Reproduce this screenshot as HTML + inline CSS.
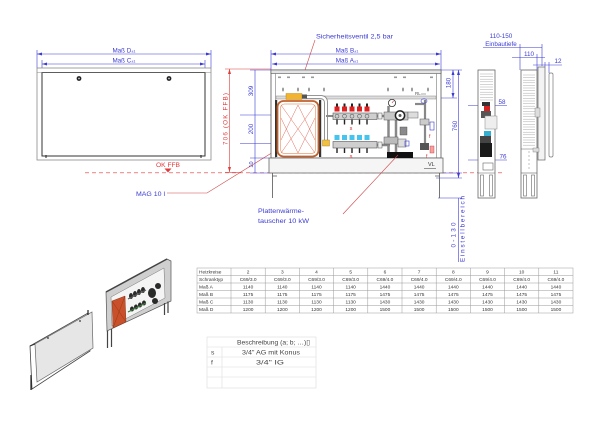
<!DOCTYPE html>
<html><head><meta charset="utf-8"><style>
html,body{margin:0;padding:0;background:#fff;width:600px;height:425px;overflow:hidden}
svg{display:block}
text{font-family:"Liberation Sans",Arial,sans-serif}
</style></head><body>
<svg width="600" height="425" viewBox="0 0 600 425" xmlns="http://www.w3.org/2000/svg">
<defs>
<marker id="ab" markerWidth="5" markerHeight="3" refX="5" refY="1.5" orient="auto-start-reverse" markerUnits="userSpaceOnUse"><path d="M0,0 L5,1.5 L0,3z" fill="#3b3bd4"/></marker>
<marker id="ar" markerWidth="5" markerHeight="3" refX="5" refY="1.5" orient="auto-start-reverse" markerUnits="userSpaceOnUse"><path d="M0,0 L5,1.5 L0,3z" fill="#e03a3a"/></marker>
</defs>

<!-- ===== LEFT FRONT VIEW ===== -->
<g stroke="#3b3bd4" stroke-width="0.6" fill="none">
<line x1="37" y1="54" x2="211" y2="54" marker-start="url(#ab)" marker-end="url(#ab)"/>
<line x1="42" y1="64" x2="205" y2="64" marker-start="url(#ab)" marker-end="url(#ab)"/>
<line x1="37" y1="50" x2="37" y2="68"/><line x1="211" y1="50" x2="211" y2="68"/>
<line x1="42" y1="60" x2="42" y2="72"/><line x1="205" y1="60" x2="205" y2="72"/>
</g>
<text x="124" y="52.5" text-anchor="middle" font-size="6.3" fill="#3b3bd4">Maß D<tspan font-size="3.8">±1</tspan></text>
<text x="124" y="62.5" text-anchor="middle" font-size="6.3" fill="#3b3bd4">Maß C<tspan font-size="3.8">±1</tspan></text>
<rect x="37" y="68" width="174" height="92" fill="#fff" stroke="#8a8a8a" stroke-width="0.8"/>
<rect x="42" y="72.5" width="163" height="83.5" fill="#fff" stroke="#333" stroke-width="1"/>
<line x1="37" y1="72.5" x2="211" y2="72.5" stroke="#888" stroke-width="0.5"/>
<line x1="46" y1="155" x2="46" y2="158" stroke="#222" stroke-width="1"/>
<line x1="201" y1="155" x2="201" y2="158" stroke="#222" stroke-width="1"/>
<circle cx="79" cy="78.5" r="2.4" fill="#222"/><circle cx="79" cy="78.5" r="0.9" fill="#ccc"/>
<circle cx="169" cy="78.5" r="2.4" fill="#222"/><circle cx="169" cy="78.5" r="0.9" fill="#ccc"/>

<!-- OK FFB -->
<text x="168" y="167" text-anchor="middle" font-size="6.3" fill="#e03a3a" textLength="24" lengthAdjust="spacingAndGlyphs">OK FFB</text>
<path d="M164.5,168.5 L171.5,168.5 L168,172.5z" fill="#e03a3a"/>
<line x1="85" y1="172.8" x2="503" y2="172.8" stroke="#e03a3a" stroke-width="0.6" stroke-dasharray="4,3"/>

<!-- 706 dim -->
<line x1="229.5" y1="69" x2="229.5" y2="172" stroke="#e03a3a" stroke-width="0.6" marker-start="url(#ar)" marker-end="url(#ar)"/>
<line x1="225" y1="69" x2="271" y2="69" stroke="#e03a3a" stroke-width="0.6"/>
<line x1="225" y1="172.5" x2="240" y2="172.5" stroke="#e03a3a" stroke-width="0.6"/>
<text transform="translate(227.5,119) rotate(-90)" text-anchor="middle" font-size="6.3" fill="#e03a3a" textLength="52" lengthAdjust="spacing">706 (OK FFB)</text>

<!-- MAG leader -->
<text x="136" y="196" font-size="6.3" fill="#3b3bd4" textLength="29" lengthAdjust="spacingAndGlyphs">MAG 10 l</text>
<polyline points="167,193 207,193 291,141" fill="none" stroke="#d04848" stroke-width="0.6"/>

<!-- ===== MIDDLE FRONT VIEW ===== -->
<text x="316" y="38.5" font-size="6.3" fill="#3b3bd4" textLength="77" lengthAdjust="spacingAndGlyphs">Sicherheitsventil 2,5 bar</text>
<line x1="315" y1="40" x2="297" y2="94" stroke="#d04848" stroke-width="0.6"/>

<g stroke="#3b3bd4" stroke-width="0.6" fill="none">
<line x1="271" y1="54" x2="441" y2="54" marker-start="url(#ab)" marker-end="url(#ab)"/>
<line x1="272" y1="64" x2="440" y2="64" marker-start="url(#ab)" marker-end="url(#ab)"/>
<line x1="271" y1="50" x2="271" y2="70"/><line x1="441" y1="50" x2="441" y2="70"/>
<!-- left dims -->
<line x1="255" y1="70" x2="255" y2="173"/>
<line x1="250" y1="70" x2="271" y2="70"/>
<line x1="240" y1="115" x2="334" y2="115"/>
<line x1="240" y1="143.5" x2="334" y2="143.5"/>
<line x1="250" y1="158" x2="269" y2="158"/>
<line x1="250" y1="173" x2="269" y2="173"/>
<!-- right dims -->
<line x1="441" y1="70" x2="462" y2="70"/>
<line x1="437" y1="98" x2="457" y2="98"/>
<line x1="453" y1="70" x2="453" y2="98" marker-start="url(#ab)" marker-end="url(#ab)"/>
<line x1="458.5" y1="70" x2="458.5" y2="178" marker-start="url(#ab)" marker-end="url(#ab)"/>
<line x1="443" y1="173" x2="462" y2="173"/>
<line x1="436" y1="178" x2="462" y2="178"/>
<line x1="438" y1="198" x2="462" y2="198"/>
<line x1="458.5" y1="198" x2="458.5" y2="262"/>
</g>
<g fill="#3b3bd4" font-size="6.3" text-anchor="middle">
<text transform="translate(253,91) rotate(-90)">309</text>
<text transform="translate(253,129) rotate(-90)">200</text>
<text transform="translate(253,164.5) rotate(-90)" font-size="5.5">10</text>
<text transform="translate(450.5,83) rotate(-90)">180</text>
<text transform="translate(457,126) rotate(-90)">760</text>
<text transform="translate(455.5,235) rotate(-90)" textLength="25" lengthAdjust="spacing">0-130</text>
<text transform="translate(464.5,229) rotate(-90)" textLength="66" lengthAdjust="spacing">Einstellbereich</text>
</g>
<text x="347" y="52.5" text-anchor="middle" font-size="6.3" fill="#3b3bd4">Maß B<tspan font-size="3.8">±1</tspan></text>
<text x="347" y="62.5" text-anchor="middle" font-size="6.3" fill="#3b3bd4">Maß A<tspan font-size="3.8">±1</tspan></text>

<!-- cabinet body -->
<rect x="271" y="70" width="170" height="88" fill="#fff" stroke="#555" stroke-width="0.8"/>
<rect x="271" y="70" width="170" height="3.5" fill="#e4e4e4" stroke="#555" stroke-width="0.6"/>
<line x1="275.5" y1="73.5" x2="275.5" y2="158" stroke="#777" stroke-width="0.6"/>
<line x1="436.5" y1="73.5" x2="436.5" y2="158" stroke="#777" stroke-width="0.6"/>
<rect x="269" y="158" width="174" height="15" fill="#f5f5f5" stroke="#666" stroke-width="0.8"/>
<path d="M272.5,173 V198 M272.5,176 H277 M439.5,173 V198 M435,176 H439.5" stroke="#555" stroke-width="0.8" fill="none"/>
<!-- small top items -->
<g fill="#999">
<rect x="278" y="76.5" width="3" height="1.6"/><rect x="287" y="76.5" width="3" height="1.6"/>
<rect x="302" y="76.5" width="3" height="1.6"/><rect x="311" y="76.5" width="3" height="1.6"/>
<rect x="394" y="76.5" width="3" height="1.6"/><rect x="403" y="76.5" width="3" height="1.6"/>
<rect x="430" y="76.5" width="3" height="1.6"/>
<ellipse cx="283" cy="89.5" rx="1" ry="2"/><ellipse cx="298" cy="89.5" rx="1" ry="2"/>
<ellipse cx="309" cy="89.5" rx="1" ry="2"/><ellipse cx="324" cy="89.5" rx="1" ry="2"/>
<ellipse cx="388" cy="89.5" rx="1" ry="2"/><ellipse cx="403" cy="89.5" rx="1" ry="2"/>
<ellipse cx="412" cy="89.5" rx="1" ry="2"/><ellipse cx="428" cy="89.5" rx="1" ry="2"/>
</g>
<rect x="276" y="96" width="160" height="3" fill="#ddd" stroke="#888" stroke-width="0.5"/>
<text x="415" y="95" font-size="4.5" fill="#555">RL</text>
<line x1="421" y1="94" x2="426" y2="94" stroke="#555" stroke-width="0.5"/>

<!-- safety valve + pipe -->
<path d="M306,97 H320 Q326,97 326,103 V140" fill="none" stroke="#888" stroke-width="4"/>
<path d="M306,97 H320 Q326,97 326,103 V140" fill="none" stroke="#fff" stroke-width="2.2"/>
<rect x="286" y="93.5" width="16" height="6" fill="#f2b330" stroke="#b07a10" stroke-width="0.4"/>
<rect x="302" y="94.5" width="5" height="4" fill="#555"/>
<rect x="322.5" y="140" width="7" height="6" fill="#f2c040" stroke="#a07010" stroke-width="0.4"/>

<!-- expansion tank -->
<rect x="275" y="100" width="2.2" height="57" fill="#333"/>
<rect x="319" y="100" width="2.2" height="57" fill="#333"/>
<rect x="277.5" y="101" width="41" height="55.5" rx="6" fill="#fff" stroke="#c0602c" stroke-width="1.8"/>
<rect x="280.5" y="104" width="35" height="49.5" rx="4" fill="none" stroke="#e4a078" stroke-width="0.7"/>
<g stroke="#e06a5a" stroke-width="0.5">
<line x1="281" y1="105" x2="315" y2="153"/><line x1="315" y1="105" x2="281" y2="153"/>
<line x1="298" y1="105" x2="281" y2="140"/><line x1="298" y1="105" x2="315" y2="140"/>
<line x1="298" y1="153" x2="281" y2="118"/><line x1="298" y1="153" x2="315" y2="118"/>
</g>

<!-- red manifold -->
<line x1="326" y1="116" x2="333" y2="116" stroke="#888" stroke-width="2"/>
<rect x="333" y="113" width="44" height="6.5" fill="#cfcfcf" stroke="#555" stroke-width="0.6"/>
<g fill="#e02020">
<rect x="334.5" y="106.5" width="5" height="5"/><rect x="342" y="106.5" width="5" height="5"/>
<rect x="349.5" y="106.5" width="5" height="5"/><rect x="357" y="106.5" width="5" height="5"/>
<rect x="364.5" y="106.5" width="5" height="5"/>
</g>
<g fill="#222">
<rect x="336" y="103.5" width="2" height="3"/><rect x="343.5" y="103.5" width="2" height="3"/>
<rect x="351" y="103.5" width="2" height="3"/><rect x="358.5" y="103.5" width="2" height="3"/>
<rect x="366" y="103.5" width="2" height="3"/>
<rect x="336.3" y="119.5" width="1.4" height="5"/><rect x="343.8" y="119.5" width="1.4" height="5"/>
<rect x="351.3" y="119.5" width="1.4" height="5"/><rect x="358.8" y="119.5" width="1.4" height="5"/>
<rect x="366.3" y="119.5" width="1.4" height="5"/>
<rect x="336.3" y="148" width="1.4" height="5"/><rect x="343.8" y="148" width="1.4" height="5"/>
<rect x="351.3" y="148" width="1.4" height="5"/><rect x="358.8" y="148" width="1.4" height="5"/>
<rect x="366.3" y="148" width="1.4" height="5"/>
</g>
<g fill="none" stroke="#444" stroke-width="0.5">
<circle cx="337" cy="116.2" r="2"/><circle cx="344.5" cy="116.2" r="2"/><circle cx="352" cy="116.2" r="2"/><circle cx="359.5" cy="116.2" r="2"/><circle cx="367" cy="116.2" r="2"/>
<circle cx="337" cy="144.7" r="2"/><circle cx="344.5" cy="144.7" r="2"/><circle cx="352" cy="144.7" r="2"/><circle cx="359.5" cy="144.7" r="2"/><circle cx="367" cy="144.7" r="2"/>
</g>
<text x="351" y="130" text-anchor="middle" font-size="5.5" fill="#d03030">s</text>
<!-- blue manifold -->
<rect x="333" y="141.5" width="44" height="6.5" fill="#cfcfcf" stroke="#555" stroke-width="0.6"/>
<g fill="#44c4ee">
<rect x="334.5" y="135" width="5" height="5"/><rect x="342" y="135" width="5" height="5"/>
<rect x="349.5" y="135" width="5" height="5"/><rect x="357" y="135" width="5" height="5"/>
<rect x="364.5" y="135" width="5" height="5"/>
</g>
<text x="351" y="158" text-anchor="middle" font-size="5.5" fill="#d03030">s</text>

<!-- pipes to pump group -->
<line x1="377" y1="116" x2="390" y2="116" stroke="#888" stroke-width="2.5"/>
<line x1="377" y1="145" x2="390" y2="145" stroke="#888" stroke-width="2.5"/>
<rect x="378" y="113" width="4" height="6" fill="#eee" stroke="#555" stroke-width="0.5"/>
<rect x="378" y="142" width="4" height="6" fill="#eee" stroke="#555" stroke-width="0.5"/>

<!-- pump group -->
<line x1="388.5" y1="106" x2="388.5" y2="152" stroke="#888" stroke-width="2.5"/>
<line x1="396" y1="120" x2="396" y2="152" stroke="#888" stroke-width="2.5"/>
<circle cx="392" cy="103" r="3.6" fill="#fff" stroke="#333" stroke-width="0.8"/>
<line x1="392" y1="103" x2="393.5" y2="101" stroke="#d02020" stroke-width="0.6"/>
<rect x="384" y="112" width="24" height="8" fill="#c8c8c8" stroke="#555" stroke-width="0.5"/>
<circle cx="400" cy="115.5" r="4.6" fill="#fff" stroke="#222" stroke-width="1.5"/>
<circle cx="400" cy="115.5" r="1.5" fill="#555"/>
<rect x="408" y="112" width="10" height="6" fill="#ddd" stroke="#666" stroke-width="0.5"/>
<rect x="400" y="127" width="7" height="8" fill="#8a8a8a" stroke="#444" stroke-width="0.4"/>
<rect x="384" y="137" width="14" height="7" fill="#bbb" stroke="#555" stroke-width="0.5"/>
<rect x="398" y="139" width="8" height="8" fill="#ddd" stroke="#555" stroke-width="0.5"/>
<rect x="405" y="141" width="4" height="5" fill="none" stroke="#3b3bd4" stroke-width="0.6"/>
<rect x="387" y="152" width="26" height="6" fill="#111"/>
<!-- right valve group -->
<line x1="425" y1="100" x2="425" y2="150" stroke="#888" stroke-width="2.2"/>
<line x1="415" y1="104" x2="425" y2="104" stroke="#888" stroke-width="2.2"/>
<ellipse cx="424" cy="101" rx="3" ry="2.2" fill="none" stroke="#3b3bd4" stroke-width="0.6"/>
<rect x="420" y="119" width="9" height="6" fill="#ccc" stroke="#555" stroke-width="0.5"/>
<rect x="430" y="122" width="4" height="8" fill="none" stroke="#3b3bd4" stroke-width="0.6"/>
<rect x="420" y="143" width="9" height="7" fill="#555"/>
<rect x="430" y="146" width="4" height="7" fill="#f4a0a0" stroke="#d03030" stroke-width="0.4"/>
<text x="429" y="138" font-size="5" fill="#d03030">f</text>
<text x="426" y="158" font-size="5" fill="#d03030">f</text>
<text x="428" y="166" font-size="5.5" fill="#333">VL</text>
<line x1="424" y1="168.5" x2="436" y2="168.5" stroke="#333" stroke-width="0.5"/>

<!-- Plattenwärmetauscher -->
<text x="258" y="213" font-size="6.3" fill="#3b3bd4" textLength="46" lengthAdjust="spacingAndGlyphs">Plattenwärme-</text>
<text x="258" y="223" font-size="6.3" fill="#3b3bd4" textLength="51" lengthAdjust="spacingAndGlyphs">tauscher 10 kW</text>
<line x1="343" y1="214" x2="398" y2="155" stroke="#d04848" stroke-width="0.6"/>

<!-- ===== SIDE VIEWS ===== -->
<text x="501" y="38" text-anchor="middle" font-size="6.3" fill="#3b3bd4">110-150</text>
<text x="501" y="46" text-anchor="middle" font-size="6.3" fill="#3b3bd4">Einbautiefe</text>
<g stroke="#3b3bd4" stroke-width="0.6" fill="none">
<line x1="483" y1="47.5" x2="542" y2="47.5"/>
<line x1="520" y1="44" x2="520" y2="70"/><line x1="542" y1="44" x2="542" y2="66"/>
<line x1="512" y1="57.5" x2="545" y2="57.5"/>
<line x1="537" y1="54" x2="537" y2="70"/>
<line x1="533" y1="65" x2="562" y2="65"/>
<line x1="545" y1="62" x2="545" y2="67"/><line x1="549" y1="62" x2="549" y2="73"/>
<line x1="468" y1="105.5" x2="507" y2="105.5"/>
<line x1="468" y1="160" x2="507" y2="160"/>
</g>
<text x="529" y="56" text-anchor="middle" font-size="6.3" fill="#3b3bd4">110</text>
<text x="558" y="63" text-anchor="middle" font-size="6.3" fill="#3b3bd4">12</text>
<text x="502" y="104" text-anchor="middle" font-size="6.3" fill="#3b3bd4">58</text>
<text x="503" y="158.5" text-anchor="middle" font-size="6.3" fill="#3b3bd4">76</text>

<!-- side view 1 -->
<rect x="478" y="70" width="17" height="128" fill="#fff" stroke="#666" stroke-width="0.8"/>
<g stroke="#aaa" stroke-width="0.5">
<line x1="480" y1="74" x2="493" y2="74"/><line x1="480" y1="76.6" x2="493" y2="76.6"/><line x1="480" y1="79.2" x2="493" y2="79.2"/><line x1="480" y1="81.8" x2="493" y2="81.8"/><line x1="480" y1="84.4" x2="493" y2="84.4"/><line x1="480" y1="87" x2="493" y2="87"/><line x1="480" y1="89.6" x2="493" y2="89.6"/><line x1="480" y1="92.2" x2="493" y2="92.2"/><line x1="480" y1="94.8" x2="493" y2="94.8"/><line x1="480" y1="97.4" x2="493" y2="97.4"/><line x1="480" y1="100" x2="493" y2="100"/>
</g>
<rect x="482" y="102" width="8" height="4" fill="#333"/>
<rect x="484" y="106" width="6" height="5" fill="#d62020"/>
<rect x="481" y="111" width="10" height="7" fill="#555"/>
<rect x="485" y="116" width="12" height="13" fill="#eee" stroke="#888" stroke-width="0.5"/>
<rect x="484" y="131" width="7" height="5" fill="#34aed0"/>
<rect x="480" y="136" width="11" height="7" fill="#444"/>
<rect x="480" y="143" width="12" height="14" fill="#1a1a1a"/>
<rect x="483" y="163" width="10" height="7" fill="none" stroke="#666" stroke-width="0.6"/>
<line x1="478" y1="173" x2="495" y2="173" stroke="#666" stroke-width="0.6"/>
<rect x="480.5" y="175" width="3" height="21" fill="none" stroke="#666" stroke-width="0.6"/>
<rect x="489.5" y="175" width="3" height="21" fill="none" stroke="#666" stroke-width="0.6"/>

<!-- side view 2 -->
<rect x="521" y="70" width="16" height="128" fill="#fff" stroke="#666" stroke-width="0.8"/>
<g stroke="#aaa" stroke-width="0.5">
<line x1="523" y1="75" x2="535" y2="75"/><line x1="523" y1="77.6" x2="535" y2="77.6"/><line x1="523" y1="80.2" x2="535" y2="80.2"/><line x1="523" y1="82.8" x2="535" y2="82.8"/><line x1="523" y1="85.4" x2="535" y2="85.4"/><line x1="523" y1="88" x2="535" y2="88"/><line x1="523" y1="90.6" x2="535" y2="90.6"/><line x1="523" y1="93.2" x2="535" y2="93.2"/><line x1="523" y1="95.8" x2="535" y2="95.8"/><line x1="523" y1="98.4" x2="535" y2="98.4"/><line x1="523" y1="101" x2="535" y2="101"/><line x1="523" y1="103.6" x2="535" y2="103.6"/><line x1="523" y1="106.2" x2="535" y2="106.2"/><line x1="523" y1="108.8" x2="535" y2="108.8"/><line x1="523" y1="111.4" x2="535" y2="111.4"/><line x1="523" y1="114" x2="535" y2="114"/><line x1="523" y1="116.6" x2="535" y2="116.6"/><line x1="523" y1="119.2" x2="535" y2="119.2"/><line x1="523" y1="121.8" x2="535" y2="121.8"/><line x1="523" y1="124.4" x2="535" y2="124.4"/><line x1="523" y1="127" x2="535" y2="127"/><line x1="523" y1="129.6" x2="535" y2="129.6"/><line x1="523" y1="132.2" x2="535" y2="132.2"/><line x1="523" y1="134.8" x2="535" y2="134.8"/><line x1="523" y1="137.4" x2="535" y2="137.4"/><line x1="523" y1="140" x2="535" y2="140"/><line x1="523" y1="142.6" x2="535" y2="142.6"/><line x1="523" y1="145.2" x2="535" y2="145.2"/>
</g>
<line x1="521" y1="149" x2="537" y2="149" stroke="#666" stroke-width="0.5"/>
<line x1="529" y1="151" x2="529" y2="171" stroke="#999" stroke-width="0.6" stroke-dasharray="2,2"/>
<line x1="521" y1="173" x2="537" y2="173" stroke="#666" stroke-width="0.6"/>
<rect x="523.5" y="175" width="3" height="21" fill="none" stroke="#666" stroke-width="0.6"/>
<rect x="531.5" y="175" width="3" height="21" fill="none" stroke="#666" stroke-width="0.6"/>
<rect x="538" y="67" width="7" height="93" fill="#f3f3f3" stroke="#666" stroke-width="0.7"/>
<rect x="535" y="108" width="5" height="9" fill="#ddd" stroke="#777" stroke-width="0.4"/>
<rect x="533" y="148" width="6" height="4" fill="#ddd" stroke="#777" stroke-width="0.4"/>
<rect x="549" y="73" width="4" height="84" rx="1.5" fill="#fff" stroke="#777" stroke-width="0.7"/>

<!-- ===== ISOMETRIC IMAGES ===== -->
<polygon points="30,346 88,313 90,351 32,389" fill="none" stroke="#444" stroke-width="0.8"/>
<polygon points="35,344 92,312 93,348 37,382" fill="#e6e6e6" stroke="#666" stroke-width="0.7"/>
<line x1="30" y1="346" x2="35" y2="344" stroke="#333" stroke-width="1"/>
<line x1="31" y1="375" x2="31" y2="390" stroke="#222" stroke-width="1.2"/>
<line x1="88" y1="310" x2="88" y2="315" stroke="#222" stroke-width="1.2"/>
<circle cx="48" cy="338" r="0.9" fill="#333"/><circle cx="80" cy="321" r="0.9" fill="#333"/>

<polygon points="106,292 167,259 171,261 171,301 107,331" fill="#cfcfcf" stroke="#555" stroke-width="0.7"/>
<polygon points="111,297 164,268 165,298 112,326" fill="#f4f4f4" stroke="#777" stroke-width="0.5"/>
<line x1="106" y1="292" x2="167" y2="259" stroke="#444" stroke-width="1.5"/>
<polygon points="112,301 125,296 126,322 113,328" fill="#c8502a" stroke="#7a2a10" stroke-width="0.4"/>
<line x1="112" y1="301" x2="126" y2="322" stroke="#8a3010" stroke-width="0.4"/>
<line x1="125" y1="296" x2="113" y2="328" stroke="#8a3010" stroke-width="0.4"/>
<g fill="#2a2a2a">
<ellipse cx="131" cy="296" rx="2" ry="3"/><ellipse cx="135" cy="294" rx="2" ry="3"/><ellipse cx="139" cy="292" rx="2" ry="3"/><ellipse cx="143" cy="290" rx="2" ry="3"/>
<ellipse cx="132" cy="309" rx="2" ry="2.5"/><ellipse cx="136" cy="307" rx="2" ry="2.5"/><ellipse cx="140" cy="305" rx="2" ry="2.5"/><ellipse cx="144" cy="303" rx="2" ry="2.5"/>
<ellipse cx="152" cy="293" rx="4" ry="5"/><ellipse cx="158" cy="286" rx="3" ry="3"/><ellipse cx="155" cy="301" rx="3" ry="3"/>
</g>
<line x1="128" y1="312" x2="146" y2="303" stroke="#3a7a3a" stroke-width="1.2"/>
<line x1="128" y1="299" x2="146" y2="290" stroke="#555" stroke-width="1"/>
<path d="M107.5,331 V348 M111.5,329 V347 M164.5,303 V315 M168,301.5 V313" stroke="#444" stroke-width="1.2" fill="none"/>

<!-- ===== TABLE ===== -->
<g stroke="#999" stroke-width="0.5" fill="none">
<rect x="197" y="268" width="376" height="45"/>
<line x1="197" y1="275.5" x2="573" y2="275.5"/><line x1="197" y1="283" x2="573" y2="283"/>
<line x1="197" y1="290.5" x2="573" y2="290.5"/><line x1="197" y1="298" x2="573" y2="298"/>
<line x1="197" y1="305.5" x2="573" y2="305.5"/>
<line x1="231" y1="268" x2="231" y2="313"/><line x1="265.2" y1="268" x2="265.2" y2="313"/>
<line x1="299.4" y1="268" x2="299.4" y2="313"/><line x1="333.6" y1="268" x2="333.6" y2="313"/>
<line x1="367.8" y1="268" x2="367.8" y2="313"/><line x1="402" y1="268" x2="402" y2="313"/>
<line x1="436.2" y1="268" x2="436.2" y2="313"/><line x1="470.4" y1="268" x2="470.4" y2="313"/>
<line x1="504.6" y1="268" x2="504.6" y2="313"/><line x1="538.8" y1="268" x2="538.8" y2="313"/>
</g>
<g font-size="4.8" fill="#333">
<text x="199" y="273.5">Heizkreise</text><text x="199" y="281">Schranktyp</text>
<text x="199" y="288.5">Maß A</text><text x="199" y="296">Maß B</text>
<text x="199" y="303.5">Maß C</text><text x="199" y="311">Maß D</text>
</g>
<g font-size="4.8" fill="#333" text-anchor="middle">
<text x="248.1" y="273.5">2</text><text x="282.3" y="273.5">3</text><text x="316.5" y="273.5">4</text><text x="350.7" y="273.5">5</text><text x="384.9" y="273.5">6</text><text x="419.1" y="273.5">7</text><text x="453.3" y="273.5">8</text><text x="487.5" y="273.5">9</text><text x="521.7" y="273.5">10</text><text x="555.9" y="273.5">11</text>
<text x="248.1" y="281">C69/3.0</text><text x="282.3" y="281">C69/3.0</text><text x="316.5" y="281">C69/3.0</text><text x="350.7" y="281">C69/3.0</text><text x="384.9" y="281">C69/4.0</text><text x="419.1" y="281">C69/4.0</text><text x="453.3" y="281">C69/4.0</text><text x="487.5" y="281">C69/4.0</text><text x="521.7" y="281">C69/4.0</text><text x="555.9" y="281">C69/4.0</text>
<text x="248.1" y="288.5">1140</text><text x="282.3" y="288.5">1140</text><text x="316.5" y="288.5">1140</text><text x="350.7" y="288.5">1140</text><text x="384.9" y="288.5">1440</text><text x="419.1" y="288.5">1440</text><text x="453.3" y="288.5">1440</text><text x="487.5" y="288.5">1440</text><text x="521.7" y="288.5">1440</text><text x="555.9" y="288.5">1440</text>
<text x="248.1" y="296">1175</text><text x="282.3" y="296">1175</text><text x="316.5" y="296">1175</text><text x="350.7" y="296">1175</text><text x="384.9" y="296">1475</text><text x="419.1" y="296">1475</text><text x="453.3" y="296">1475</text><text x="487.5" y="296">1475</text><text x="521.7" y="296">1475</text><text x="555.9" y="296">1475</text>
<text x="248.1" y="303.5">1130</text><text x="282.3" y="303.5">1130</text><text x="316.5" y="303.5">1130</text><text x="350.7" y="303.5">1130</text><text x="384.9" y="303.5">1430</text><text x="419.1" y="303.5">1430</text><text x="453.3" y="303.5">1430</text><text x="487.5" y="303.5">1430</text><text x="521.7" y="303.5">1430</text><text x="555.9" y="303.5">1430</text>
<text x="248.1" y="311">1200</text><text x="282.3" y="311">1200</text><text x="316.5" y="311">1200</text><text x="350.7" y="311">1200</text><text x="384.9" y="311">1500</text><text x="419.1" y="311">1500</text><text x="453.3" y="311">1500</text><text x="487.5" y="311">1500</text><text x="521.7" y="311">1500</text><text x="555.9" y="311">1500</text>
</g>

<!-- ===== DESCRIPTION TABLE ===== -->
<g stroke="#ddd" stroke-width="0.6" fill="none">
<rect x="207" y="337" width="109" height="51"/>
<line x1="207" y1="347" x2="316" y2="347"/><line x1="207" y1="357" x2="316" y2="357"/>
<line x1="207" y1="367" x2="316" y2="367"/><line x1="207" y1="377" x2="316" y2="377"/>
<line x1="222" y1="347" x2="222" y2="388"/>
</g>
<g font-size="6.8" fill="#444">
<text x="237" y="344.5" textLength="73" lengthAdjust="spacingAndGlyphs">Beschreibung (a; b; …)▯</text>
<text x="211" y="354.5">s</text>
<text x="242" y="354.5" textLength="58" lengthAdjust="spacingAndGlyphs">3/4" AG mit Konus</text>
<text x="211" y="364.5">f</text>
<text x="256" y="364.5" textLength="28" lengthAdjust="spacingAndGlyphs">3/4" IG</text>
</g>
</svg>
</body></html>
